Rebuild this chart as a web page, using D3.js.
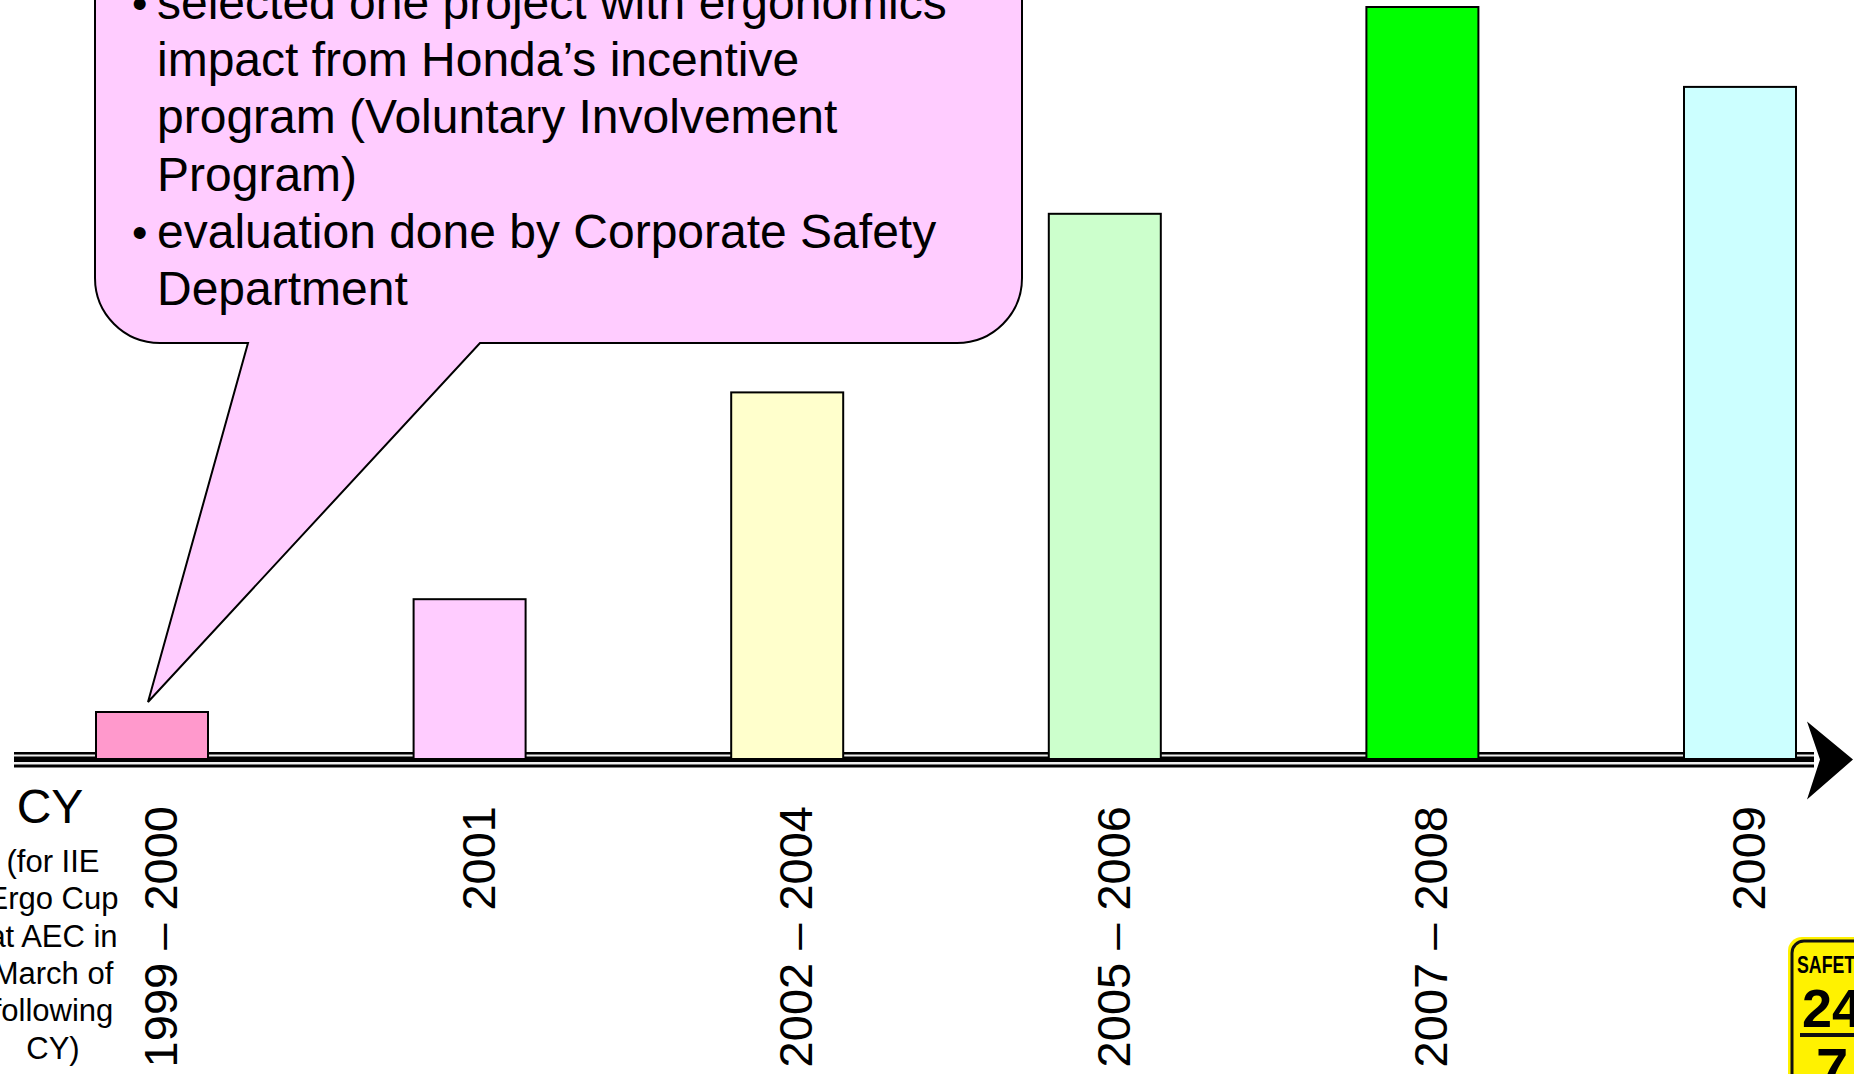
<!DOCTYPE html>
<html>
<head>
<meta charset="utf-8">
<script src="https://cdn.jsdelivr.net/npm/d3@7"></script>
<style>
    body { margin: 0; background: #fff; overflow: hidden; }
    svg { display: block; font-family: "Liberation Sans", Arial, sans-serif; }
</style>
</head>
<body>
<svg id="chart" width="1854" height="1074"></svg>
<script>
// data
var periods = ["1999 – 2000", "2001", "2002 – 2004", "2005 – 2006", "2007 – 2008", "2009"];
var levels = [1, 3.4, 7.8, 11.6, 16, 14.3];
var barColors = ["#ff99cc", "#ffccff", "#ffffcc", "#ccffcc", "#00ff00", "#ccffff"];

var calloutLines = [
    { bullet: true, text: "selected one project with ergonomics" },
    { bullet: false, text: "impact from Honda’s incentive" },
    { bullet: false, text: "program (Voluntary Involvement" },
    { bullet: false, text: "Program)" },
    { bullet: true, text: "evaluation done by Corporate Safety" },
    { bullet: false, text: "Department" }
];
var cyNote = ["(for IIE", "Ergo Cup", "at AEC in", "March of", "following", "CY)"];

var svg = d3.select("#chart");
var baseY = 759;

var x = d3.scalePoint()
    .domain(periods)
    .range([152, 1740]);

var y = d3.scaleLinear()
    .domain([0, 16])
    .range([baseY, 7]);

var barW = 112;

// callout bubble with its tail pointing at the first bar
var bx0 = 95, bx1 = 1022, by0 = -80, by1 = 343, r = 65;
var p = d3.path();
p.moveTo(bx0, by0);
p.lineTo(bx0, by1 - r);
p.arcTo(bx0, by1, bx0 + r, by1, r);
p.lineTo(248, by1);
p.lineTo(x(periods[0]) - 4, y(levels[0]) - 10);
p.lineTo(480, by1);
p.lineTo(bx1 - r, by1);
p.arcTo(bx1, by1, bx1, by1 - r, r);
p.lineTo(bx1, by0);
p.closePath();

svg.append("path")
    .attr("d", p.toString())
    .attr("fill", "#ffccff")
    .attr("stroke", "#000")
    .attr("stroke-width", 2);

var lines = svg.append("g")
    .selectAll("g")
    .data(calloutLines)
    .enter()
    .append("g")
    .attr("transform", function(d, i) { return "translate(0," + (19 + i * 57.2) + ")"; });

lines.filter(function(d) { return d.bullet; })
    .append("text")
    .attr("x", 132)
    .style("font-size", "44px")
    .text("•");

lines.append("text")
    .attr("x", 157)
    .style("font-size", "48px")
    .text(function(d) { return d.text; });

// axis: compound line + arrow head
svg.append("rect").attr("x", 14).attr("y", 752).attr("width", 1800).attr("height", 15.5).attr("fill", "#000");
svg.append("rect").attr("x", 14).attr("y", 754.5).attr("width", 1800).attr("height", 2).attr("fill", "#eee");
svg.append("rect").attr("x", 14).attr("y", 762).attr("width", 1800).attr("height", 2.5).attr("fill", "#eee");

svg.append("path")
    .attr("d", "M1807,721.5 L1853,759.5 L1807,799.5 L1820,759.5 Z")
    .attr("fill", "#000");

// bars
svg.append("g")
    .selectAll("rect")
    .data(periods)
    .enter()
    .append("rect")
    .attr("x", function(d) { return x(d) - barW / 2; })
    .attr("y", function(d, i) { return y(levels[i]); })
    .attr("width", barW)
    .attr("height", function(d, i) { return baseY - y(levels[i]); })
    .attr("fill", function(d, i) { return barColors[i]; })
    .attr("stroke", "#000")
    .attr("stroke-width", 2);

// rotated period labels
svg.append("g")
    .selectAll("text")
    .data(periods)
    .enter()
    .append("text")
    .attr("transform", function(d) { return "translate(" + (x(d) + 25) + ",806) rotate(-90)"; })
    .attr("text-anchor", "end")
    .style("font-size", "47px")
    .text(function(d) { return d; });

// CY caption on the left
svg.append("text")
    .attr("x", 50)
    .attr("y", 823)
    .attr("text-anchor", "middle")
    .style("font-size", "48px")
    .text("CY");

svg.append("g")
    .selectAll("text")
    .data(cyNote)
    .enter()
    .append("text")
    .attr("x", 53)
    .attr("y", function(d, i) { return 872 + i * 37.3; })
    .attr("text-anchor", "middle")
    .style("font-size", "31px")
    .text(function(d) { return d; });

// little Safety 24/7 badge cut off at the corner
var badge = svg.append("g").attr("transform", "translate(1788,937)");
badge.append("rect")
    .attr("width", 120).attr("height", 180).attr("rx", 14)
    .attr("fill", "#fff200");
badge.append("rect")
    .attr("x", 4).attr("y", 4).attr("width", 110).attr("height", 170).attr("rx", 12)
    .attr("fill", "none").attr("stroke", "#111").attr("stroke-width", 3);
badge.append("text")
    .attr("x", 9).attr("y", 36)
    .style("font-size", "24px").style("font-weight", "bold")
    .attr("textLength", 70).attr("lengthAdjust", "spacingAndGlyphs")
    .text("SAFETY");
badge.append("text")
    .attr("x", 14).attr("y", 90)
    .style("font-size", "54px").style("font-weight", "bold")
    .text("24");
badge.append("rect")
    .attr("x", 12).attr("y", 96).attr("width", 100).attr("height", 4)
    .attr("fill", "#111");
badge.append("text")
    .attr("x", 28).attr("y", 152)
    .style("font-size", "58px").style("font-weight", "bold")
    .text("7");
</script>
</body>
</html>
